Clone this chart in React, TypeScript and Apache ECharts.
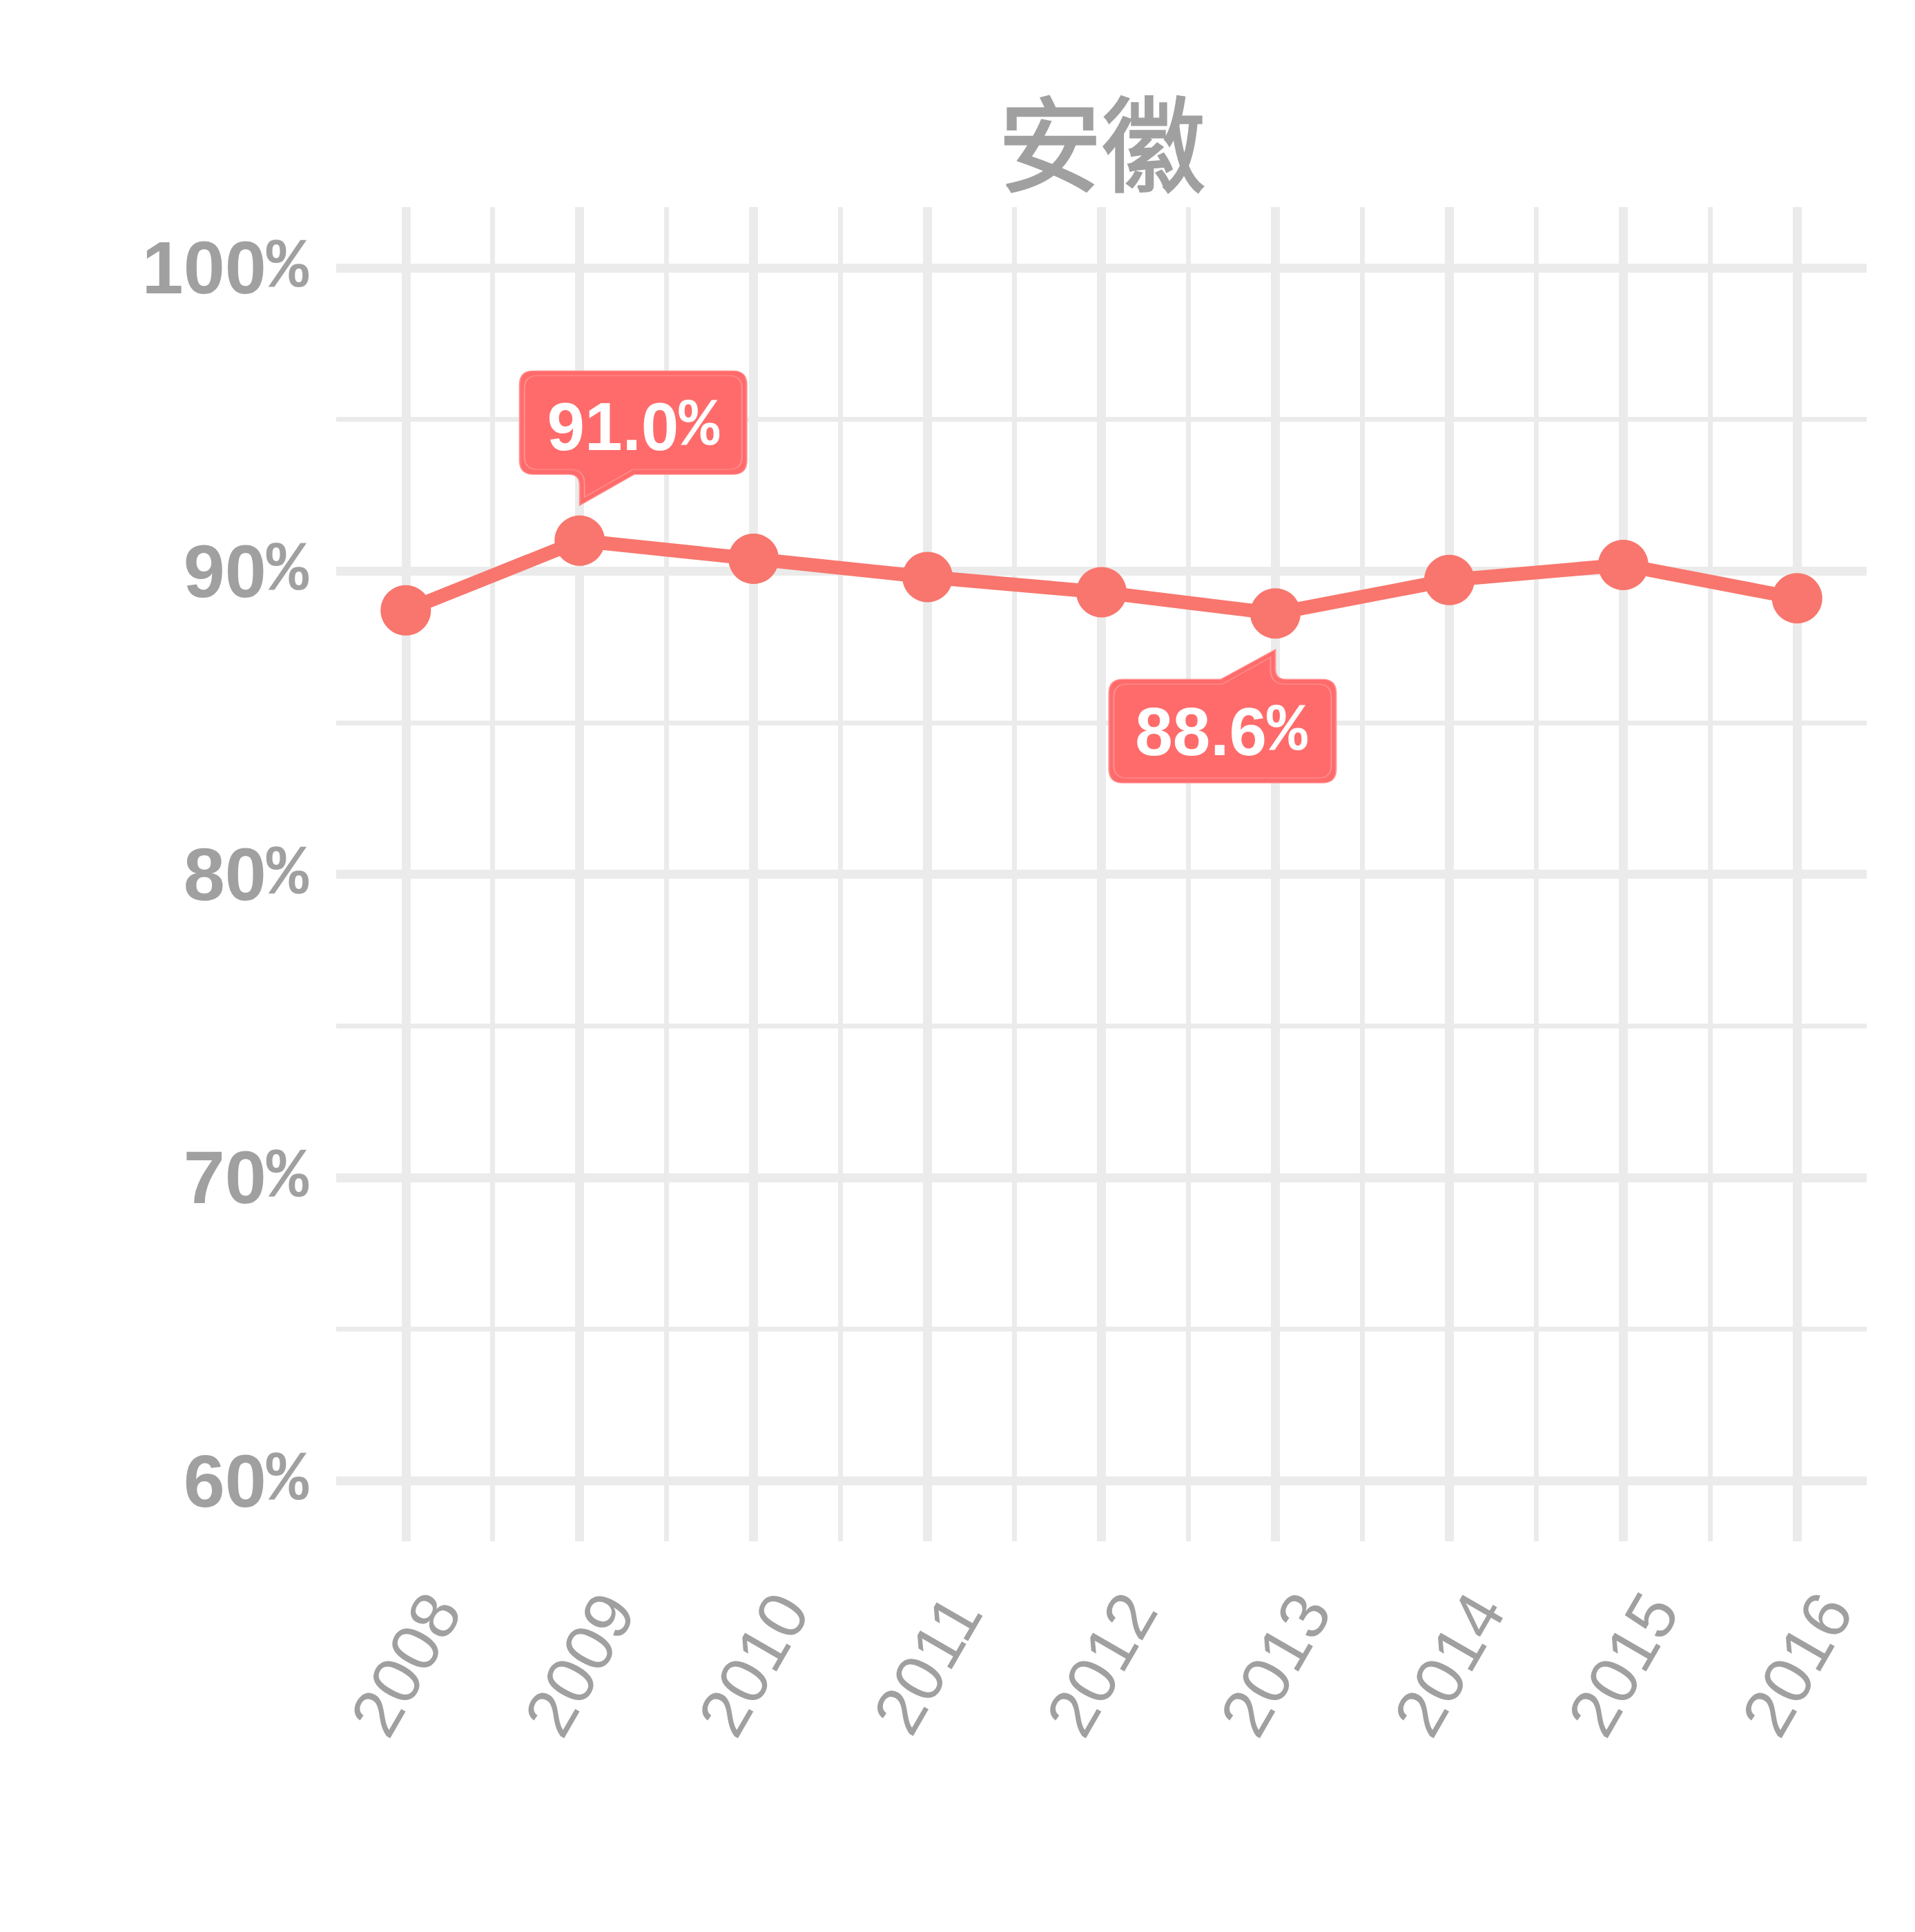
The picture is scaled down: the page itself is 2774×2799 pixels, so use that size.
import React, { useEffect, useRef } from "react";
import * as echarts from "echarts";

const titleText = "安徽";
const years = [2008, 2009, 2010, 2011, 2012, 2013, 2014, 2015, 2016];
const rates = [88.7, 91.0, 90.4, 89.8, 89.3, 88.6, 89.7, 90.2, 89.1];
const yMajorTicks = [60, 70, 80, 90, 100];
const yMinorTicks = [65, 75, 85, 95];

const GRID = "#EBEBEB";
const TEXT = "#A0A0A0";
const LINE = "#F8766D";
const CALLOUT = "#FF6B6B";

const calloutUp =
  "path://M20 0H309Q329 0 329 20V130Q329 150 309 150H166L87 195V166Q87 150 71 150H20Q0 150 0 130V20Q0 0 20 0Z" +
  "M26 7H303Q322 7 322 26V124Q322 143 303 143H164L94 183V164Q94 143 73 143H26Q7 143 7 124V26Q7 7 26 7Z";
const calloutDown =
  "path://M20 43H162L241 0V28Q241 43 257 43H309Q329 43 329 63V173Q329 193 309 193H20Q0 193 0 173V63Q0 43 20 43Z" +
  "M26 50H164L234 11V29Q234 50 256 50H303Q322 50 322 69V167Q322 186 303 186H26Q7 186 7 167V69Q7 50 26 50Z";

export default function App() {
  const ref = useRef<HTMLDivElement>(null);

  useEffect(() => {
    document.body.style.margin = "0";
    if (!ref.current) return;
    const chart = echarts.init(ref.current, undefined, { renderer: "svg" });

    const data = years.map((y, i) => [y, rates[i]]);
    const xMinor = years.slice(1).map((y, i) => (y + years[i]) / 2);
    const maxIdx = rates.indexOf(Math.max(...rates));
    const minIdx = rates.indexOf(Math.min(...rates));

    const sans = "'Liberation Sans', Arial, sans-serif";
    const mono = "'Liberation Mono', 'DejaVu Sans Mono', monospace";

    chart.setOption({
      animation: false,
      backgroundColor: "#FFFFFF",
      graphic: [
        {
          type: "text",
          x: 1596,
          y: 200,
          style: {
            text: titleText,
            textAlign: "center",
            textVerticalAlign: "middle",
            fontSize: 150,
            fontWeight: "normal",
            fontFamily: "'Noto Sans CJK SC', sans-serif",
            fill: TEXT,
            stroke: TEXT,
            lineWidth: 3,
          },
        },
      ],
      grid: { left: 487, right: 70, top: 300, bottom: 566 },
      xAxis: [
        {
          type: "value",
          min: 2007.6,
          max: 2016.4,
          axisLine: { show: false },
          axisTick: { show: false, customValues: years },
          axisLabel: {
            customValues: years,
            formatter: (v: number) => String(v),
            rotate: 60,
            align: "center",
            verticalAlign: "middle",
            margin: 178,
            fontSize: 98,
            color: TEXT,
            fontFamily: sans,
          },
          splitLine: { show: true, lineStyle: { color: GRID, width: 13 } },
        },
        {
          type: "value",
          min: 2007.6,
          max: 2016.4,
          position: "bottom",
          axisLine: { show: false },
          axisTick: { show: false, customValues: xMinor },
          axisLabel: { show: false, customValues: xMinor },
          splitLine: { show: true, lineStyle: { color: GRID, width: 7 } },
        },
      ],
      yAxis: [
        {
          type: "value",
          min: 58,
          max: 102,
          axisLine: { show: false },
          axisTick: { show: false, customValues: yMajorTicks },
          axisLabel: {
            customValues: yMajorTicks,
            formatter: (v: number) => "{n|" + v + "}{p|%}",
            margin: 40,
            rich: {
              n: { fontSize: 108, fontWeight: "bold", fontFamily: sans, color: TEXT },
              p: { fontSize: 102, fontWeight: "bold", fontFamily: mono, color: TEXT },
            },
          },
          splitLine: { show: true, lineStyle: { color: GRID, width: 13 } },
        },
        {
          type: "value",
          min: 58,
          max: 102,
          position: "left",
          axisLine: { show: false },
          axisTick: { show: false, customValues: yMinorTicks },
          axisLabel: { show: false, customValues: yMinorTicks },
          splitLine: { show: true, lineStyle: { color: GRID, width: 7 } },
        },
      ],
      series: [
        {
          type: "line",
          xAxisIndex: 0,
          yAxisIndex: 0,
          data,
          z: 3,
          symbol: "circle",
          symbolSize: 73,
          lineStyle: { color: LINE, width: 20 },
          itemStyle: { color: LINE },
          label: { show: false },
          markPoint: {
            silent: true,
            itemStyle: { color: CALLOUT, borderColor: "#FF9090", borderWidth: 1.5 },
            label: {
              show: true,
              position: "inside",
              formatter: (p: any) => "{n|" + Number(p.value).toFixed(1) + "}{p|%}",
              rich: {
                n: { fontSize: 98, fontWeight: "bold", fontFamily: sans, color: "#FFFFFF" },
                p: { fontSize: 98, fontWeight: "bold", fontFamily: mono, color: "#FFFFFF" },
              },
            },
            data: [
              {
                coord: [years[maxIdx], rates[maxIdx]],
                value: rates[maxIdx],
                symbol: calloutUp,
                symbolSize: [329, 195],
                symbolOffset: [77.5, -148.5],
                label: { offset: [0, -17] },
              },
              {
                coord: [years[minIdx], rates[minIdx]],
                value: rates[minIdx],
                symbol: calloutDown,
                symbolSize: [329, 193],
                symbolOffset: [-76.5, 149],
                label: { offset: [-2, 22] },
              },
            ],
          },
        },
      ],
    });

    return () => chart.dispose();
  }, []);

  return <div ref={ref} style={{ width: 2774, height: 2799 }} />;
}
